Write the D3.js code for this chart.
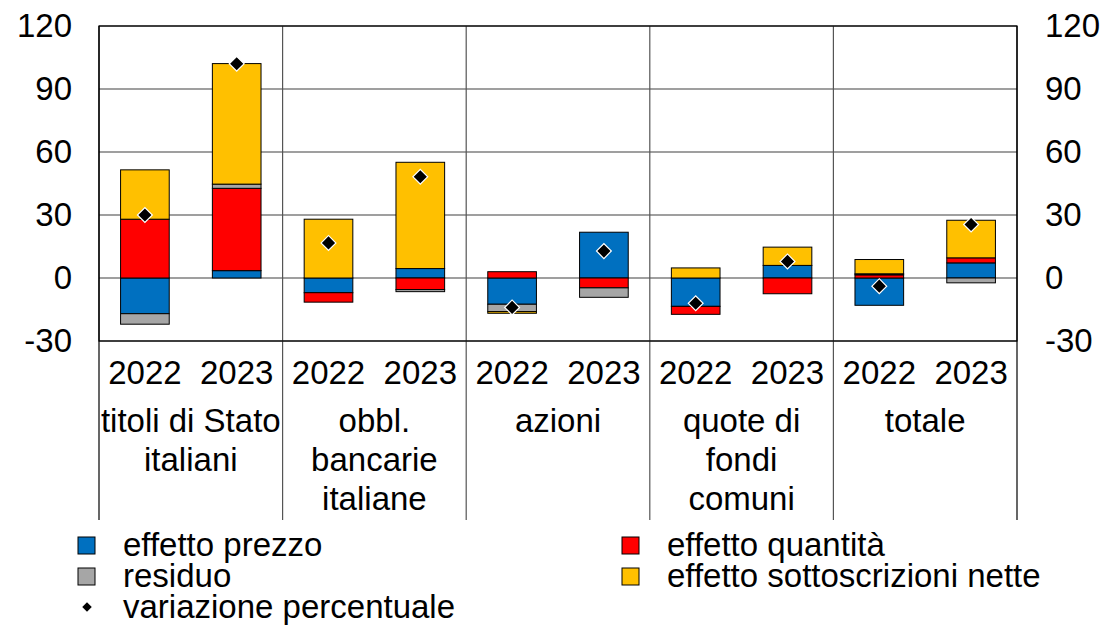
<!DOCTYPE html>
<html>
<head>
<meta charset="utf-8">
<script src="https://cdn.jsdelivr.net/npm/d3@7"></script>
<style>
  body { margin: 0; background: #fff; }
  svg { display: block; font-family: "Liberation Sans", Arial, sans-serif; }
</style>
</head>
<body>
<div id="chart"></div>
<script>
// categories (multi-line labels) and years
const categories = [
    ["titoli di Stato", "italiani"],
    ["obbl.", "bancarie", "italiane"],
    ["azioni"],
    ["quote di", "fondi", "comuni"],
    ["totale"]
];
const years = ["2022", "2023"];

// one value per category/year, in order
const prezzo         = [-17, 3.5, -7, 4.5, -12.5, 21.8, -13.5, 6, -13, 7.2];
const quantita       = [28, 39.2, -4.5, -5.5, 3, -4.7, -3.8, -7.5, 1.5, 2.4];
const residuo        = [-5, 2, 0, -1, -3.5, -4.5, 0, 0, 0.5, -2.3];
const sottoscrizioni = [23.5, 57.4, 28, 50.6, -0.8, 0, 4.8, 8.7, 6.8, 17.9];
const variazione     = [30, 102, 16.7, 48.2, -14, 12.8, -12, 7.9, -3.9, 25.5];

const yTicks = [-30, 0, 30, 60, 90, 120];

const series = [
    { key: "prezzo", label: "effetto prezzo", color: "#0070C0", values: prezzo },
    { key: "quantita", label: "effetto quantità", color: "#FF0000", values: quantita },
    { key: "residuo", label: "residuo", color: "#A6A6A6", values: residuo },
    { key: "sottoscrizioni", label: "effetto sottoscrizioni nette", color: "#FFC000", values: sottoscrizioni }
];

const width = 1104, height = 626;
const pLeft = 99, pRight = 1017, pTop = 26, pBottom = 341;

const rows = [];
categories.forEach((c, i) => {
    years.forEach((yr, j) => {
        const k = i * years.length + j;
        const row = { cat: i, year: yr, variazione: variazione[k] };
        series.forEach(s => row[s.key] = s.values[k]);
        rows.push(row);
    });
});

const svg = d3.select("#chart").append("svg")
    .attr("width", width)
    .attr("height", height);

const x0 = d3.scaleBand().domain(d3.range(categories.length)).range([pLeft, pRight]).padding(0);
const x1 = d3.scaleBand().domain(years).range([0, x0.bandwidth()]).padding(0);
const barW = x1.bandwidth() * 0.53;

const y = d3.scaleLinear().domain([-30, 120]).range([pBottom, pTop]);

// gridlines
svg.append("g")
    .selectAll("line")
    .data(yTicks)
    .join("line")
    .attr("x1", pLeft).attr("x2", pRight)
    .attr("y1", d => y(d)).attr("y2", d => y(d))
    .attr("stroke", "#7f7f7f")
    .attr("stroke-width", 1.5);

// group separators (run down through the label area)
svg.append("g")
    .selectAll("line")
    .data(d3.range(categories.length + 1))
    .join("line")
    .attr("x1", d => d < categories.length ? x0(d) : pRight)
    .attr("x2", d => d < categories.length ? x0(d) : pRight)
    .attr("y1", pTop)
    .attr("y2", 520)
    .attr("stroke", d => (d === 0 || d === categories.length) ? "#000" : "#555")
    .attr("stroke-width", 1.2);

// stacked bars
const stack = d3.stack()
    .keys(series.map(s => s.key))
    .offset(d3.stackOffsetDiverging);
const stacked = stack(rows);

svg.append("g")
    .selectAll("g")
    .data(stacked)
    .join("g")
    .attr("fill", (d, i) => series[i].color)
    .selectAll("rect")
    .data(d => d.filter(p => Math.abs(p[1] - p[0]) > 0.01))
    .join("rect")
    .attr("x", d => x0(d.data.cat) + x1(d.data.year) + (x1.bandwidth() - barW) / 2)
    .attr("width", barW)
    .attr("y", d => y(Math.max(d[0], d[1])))
    .attr("height", d => Math.abs(y(d[0]) - y(d[1])))
    .attr("stroke", "#000")
    .attr("stroke-width", 1);

// plot border
svg.append("rect")
    .attr("x", pLeft).attr("y", pTop)
    .attr("width", pRight - pLeft).attr("height", pBottom - pTop)
    .attr("fill", "none")
    .attr("stroke", "#000")
    .attr("stroke-width", 1.2);

// diamonds
const diamond = d3.symbol().type(d3.symbolSquare).size(110);
svg.append("g")
    .selectAll("path")
    .data(rows)
    .join("path")
    .attr("d", diamond)
    .attr("transform", d => `translate(${x0(d.cat) + x1(d.year) + x1.bandwidth() / 2},${y(d.variazione)}) rotate(45)`)
    .attr("fill", "#000")
    .attr("stroke", "#fff")
    .attr("stroke-width", 1.2);

// y axes (plain hyphen for negatives, as in the original)
const fs = 33;
const fmt = d => String(d);
svg.append("g")
    .attr("transform", `translate(${pLeft - 27},0)`)
    .call(d3.axisLeft(y).tickValues(yTicks).tickFormat(fmt).tickSize(0).tickPadding(0))
    .call(g => g.select(".domain").remove())
    .selectAll("text")
    .attr("font-size", fs)
    .attr("font-family", "Liberation Sans, Arial, sans-serif")
    .attr("fill", "#000");

svg.append("g")
    .attr("transform", `translate(${pRight + 28},0)`)
    .call(d3.axisRight(y).tickValues(yTicks).tickFormat(fmt).tickSize(0).tickPadding(0))
    .call(g => g.select(".domain").remove())
    .selectAll("text")
    .attr("font-size", fs)
    .attr("font-family", "Liberation Sans, Arial, sans-serif")
    .attr("fill", "#000");

// year labels
svg.append("g")
    .selectAll("text")
    .data(rows)
    .join("text")
    .attr("x", d => x0(d.cat) + x1(d.year) + x1.bandwidth() / 2)
    .attr("y", 384)
    .attr("text-anchor", "middle")
    .attr("font-size", fs)
    .text(d => d.year);

// category labels
const catG = svg.append("g")
    .selectAll("text")
    .data(categories)
    .join("text")
    .attr("x", (d, i) => x0(i) + x0.bandwidth() / 2)
    .attr("y", 432)
    .attr("text-anchor", "middle")
    .attr("font-size", fs);
catG.selectAll("tspan")
    .data(d => d)
    .join("tspan")
    .attr("x", function() { return this.parentNode.getAttribute("x"); })
    .attr("dy", (d, i) => i === 0 ? 0 : 39)
    .text(d => d);

// legend
const lfs = 33;
const legendItems = [
    { s: series[0], x: 78, y: 545 },
    { s: series[1], x: 622, y: 545 },
    { s: series[2], x: 78, y: 576 },
    { s: series[3], x: 622, y: 576 }
];
const leg = svg.append("g");
legendItems.forEach(it => {
    leg.append("rect")
        .attr("x", it.x).attr("y", it.y - 8)
        .attr("width", 17).attr("height", 17)
        .attr("fill", it.s.color)
        .attr("stroke", "#000")
        .attr("stroke-width", 1);
    leg.append("text")
        .attr("x", it.x + 45)
        .attr("y", it.y + 11)
        .attr("font-size", lfs)
        .text(it.s.label);
});
leg.append("path")
    .attr("d", d3.symbol().type(d3.symbolSquare).size(45))
    .attr("transform", "translate(87,607) rotate(45)")
    .attr("fill", "#000");
leg.append("text")
    .attr("x", 123)
    .attr("y", 618)
    .attr("font-size", lfs)
    .text("variazione percentuale");
</script>
</body>
</html>
